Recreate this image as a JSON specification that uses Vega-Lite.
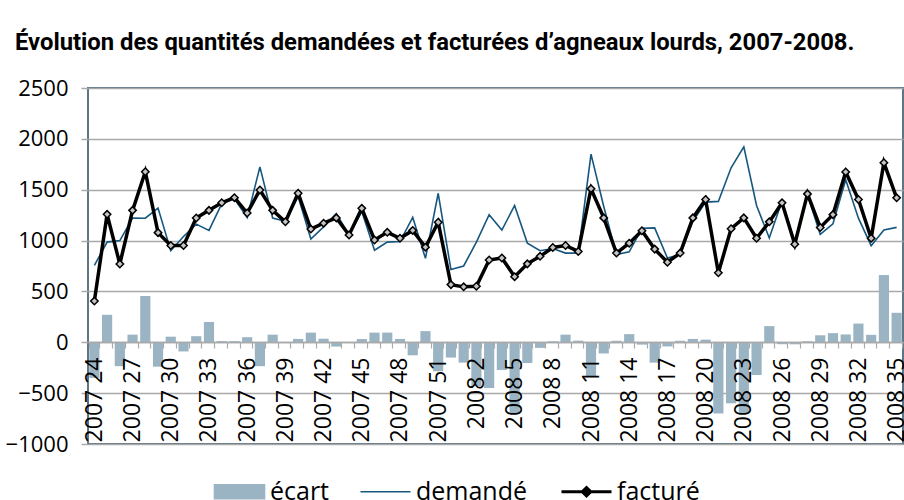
{
  "$schema": "https://vega.github.io/schema/vega-lite/v6.json",
  "width": 815,
  "height": 356,
  "autosize": {"type": "none"},
  "padding": {"left": 88, "top": 88, "right": 1, "bottom": 56},
  "background": "white",
  "title": {
    "text": "Évolution des quantités demandées et facturées d’agneaux lourds, 2007-2008.",
    "anchor": "start",
    "frame": "group",
    "dx": -73,
    "offset": 3,
    "baseline": "alphabetic",
    "font": "Roboto",
    "fontSize": 23.8,
    "fontWeight": "bold",
    "color": "#000000"
  },
  "config": {
    "view": {"stroke": "#5d7585", "strokeWidth": 2},
    "axis": {"labelFont": "Open Sans", "labelColor": "#000000", "titleFont": "Open Sans"}
  },
  "data": {
    "values": [
      {"semaine": "2007 24", "facture": 405, "demande": 755, "ecart": -350},
      {"semaine": "2007 25", "facture": 1258, "demande": 985, "ecart": 270},
      {"semaine": "2007 26", "facture": 770, "demande": 1000, "ecart": -235},
      {"semaine": "2007 27", "facture": 1297, "demande": 1222, "ecart": 75},
      {"semaine": "2007 28", "facture": 1677, "demande": 1220, "ecart": 455},
      {"semaine": "2007 29", "facture": 1078, "demande": 1320, "ecart": -240},
      {"semaine": "2007 30", "facture": 952, "demande": 900, "ecart": 55},
      {"semaine": "2007 31", "facture": 952, "demande": 1040, "ecart": -90},
      {"semaine": "2007 32", "facture": 1222, "demande": 1162, "ecart": 60},
      {"semaine": "2007 33", "facture": 1297, "demande": 1100, "ecart": 200},
      {"semaine": "2007 34", "facture": 1372, "demande": 1360, "ecart": 12},
      {"semaine": "2007 35", "facture": 1422, "demande": 1410, "ecart": 12},
      {"semaine": "2007 36", "facture": 1271, "demande": 1225, "ecart": 50},
      {"semaine": "2007 37", "facture": 1497, "demande": 1725, "ecart": -235},
      {"semaine": "2007 38", "facture": 1297, "demande": 1222, "ecart": 75},
      {"semaine": "2007 39", "facture": 1185, "demande": 1190, "ecart": -3},
      {"semaine": "2007 40", "facture": 1465, "demande": 1432, "ecart": 33},
      {"semaine": "2007 41", "facture": 1113, "demande": 1015, "ecart": 95},
      {"semaine": "2007 42", "facture": 1171, "demande": 1135, "ecart": 35},
      {"semaine": "2007 43", "facture": 1223, "demande": 1265, "ecart": -42},
      {"semaine": "2007 44", "facture": 1055, "demande": 1055, "ecart": 0},
      {"semaine": "2007 45", "facture": 1317, "demande": 1285, "ecart": 32},
      {"semaine": "2007 46", "facture": 1006, "demande": 905, "ecart": 95},
      {"semaine": "2007 47", "facture": 1081, "demande": 985, "ecart": 95},
      {"semaine": "2007 48", "facture": 1023, "demande": 990, "ecart": 33},
      {"semaine": "2007 49", "facture": 1100, "demande": 1228, "ecart": -128},
      {"semaine": "2007 50", "facture": 935, "demande": 825, "ecart": 110},
      {"semaine": "2007 51", "facture": 1180, "demande": 1465, "ecart": -285},
      {"semaine": "2007 52", "facture": 567, "demande": 715, "ecart": -150},
      {"semaine": "2008 1", "facture": 545, "demande": 750, "ecart": -200},
      {"semaine": "2008 2", "facture": 551, "demande": 985, "ecart": -430},
      {"semaine": "2008 3", "facture": 809, "demande": 1255, "ecart": -450},
      {"semaine": "2008 4", "facture": 829, "demande": 1103, "ecart": -272},
      {"semaine": "2008 5", "facture": 645, "demande": 1345, "ecart": -700},
      {"semaine": "2008 6", "facture": 771, "demande": 975, "ecart": -204},
      {"semaine": "2008 7", "facture": 845, "demande": 900, "ecart": -55},
      {"semaine": "2008 8", "facture": 932, "demande": 922, "ecart": 10},
      {"semaine": "2008 9", "facture": 952, "demande": 877, "ecart": 75},
      {"semaine": "2008 10", "facture": 893, "demande": 877, "ecart": 16},
      {"semaine": "2008 11", "facture": 1510, "demande": 1850, "ecart": -340},
      {"semaine": "2008 12", "facture": 1223, "demande": 1335, "ecart": -110},
      {"semaine": "2008 13", "facture": 877, "demande": 862, "ecart": 15},
      {"semaine": "2008 14", "facture": 974, "demande": 890, "ecart": 80},
      {"semaine": "2008 15", "facture": 1097, "demande": 1120, "ecart": -23},
      {"semaine": "2008 16", "facture": 916, "demande": 1125, "ecart": -200},
      {"semaine": "2008 17", "facture": 787, "demande": 828, "ecart": -41},
      {"semaine": "2008 18", "facture": 877, "demande": 862, "ecart": 15},
      {"semaine": "2008 19", "facture": 1223, "demande": 1190, "ecart": 33},
      {"semaine": "2008 20", "facture": 1404, "demande": 1378, "ecart": 26},
      {"semaine": "2008 21", "facture": 683, "demande": 1385, "ecart": -700},
      {"semaine": "2008 22", "facture": 1116, "demande": 1716, "ecart": -600},
      {"semaine": "2008 23", "facture": 1223, "demande": 1921, "ecart": -698},
      {"semaine": "2008 24", "facture": 1023, "demande": 1345, "ecart": -322},
      {"semaine": "2008 25", "facture": 1184, "demande": 1025, "ecart": 159},
      {"semaine": "2008 26", "facture": 1371, "demande": 1390, "ecart": -19},
      {"semaine": "2008 27", "facture": 964, "demande": 984, "ecart": -20},
      {"semaine": "2008 28", "facture": 1459, "demande": 1449, "ecart": 10},
      {"semaine": "2008 29", "facture": 1129, "demande": 1060, "ecart": 69},
      {"semaine": "2008 30", "facture": 1255, "demande": 1165, "ecart": 90},
      {"semaine": "2008 31", "facture": 1675, "demande": 1598, "ecart": 77},
      {"semaine": "2008 32", "facture": 1404, "demande": 1220, "ecart": 184},
      {"semaine": "2008 33", "facture": 1023, "demande": 950, "ecart": 73},
      {"semaine": "2008 34", "facture": 1766, "demande": 1105, "ecart": 661},
      {"semaine": "2008 35", "facture": 1420, "demande": 1130, "ecart": 290}
    ]
  },
  "encoding": {
    "x": {
      "field": "semaine",
      "type": "nominal",
      "sort": null,
      "scale": {"paddingInner": 0.2, "paddingOuter": 0.1},
      "axis": {
        "title": null,
        "offset": -102,
        "zindex": 1,
        "labelAngle": 270,
        "labelFontSize": 23,
        "labelPadding": 9,
        "labelOverlap": false,
        "labelBound": false,
        "labelExpr": "indexof(['2007 24','2007 27','2007 30','2007 33','2007 36','2007 39','2007 42','2007 45','2007 48','2007 51','2008 2','2008 5','2008 8','2008 11','2008 14','2008 17','2008 20','2008 23','2008 26','2008 29','2008 32','2008 35'], datum.value) >= 0 ? datum.value : ''",
        "tickBand": "extent",
        "tickSize": 6,
        "tickColor": "#a9a9a9",
        "tickWidth": 1.2,
        "domainColor": "#a9a9a9",
        "domainWidth": 1.5,
        "grid": false
      }
    }
  },
  "layer": [
    {
      "mark": {"type": "bar"},
      "encoding": {
        "y": {
          "field": "ecart",
          "type": "quantitative",
          "scale": {"domain": [-1000, 2500], "nice": false, "zero": false},
          "axis": {
            "title": null,
            "format": "d",
            "values": [-1000, -500, 0, 500, 1000, 1500, 2000, 2500],
            "grid": true,
            "gridColor": "#a9a9a9",
            "gridWidth": 1.5,
            "domain": false,
            "tickColor": "#a9a9a9",
            "tickSize": 7,
            "tickWidth": 1.5,
            "labelFontSize": 22,
            "labelPadding": 13
          }
        },
        "color": {
          "datum": "écart",
          "scale": {"domain": ["écart", "demandé", "facturé"], "range": ["#9bb4c4", "#17577f", "#000000"]},
          "legend": {
            "title": null,
            "orient": "none",
            "legendX": 139,
            "legendY": 391,
            "direction": "horizontal",
            "labelFont": "Open Sans",
            "labelFontSize": 25,
            "labelColor": "#000000",
            "labelOffset": 18,
            "columnPadding": 27,
            "symbolSize": 2500,
            "encode": {
              "symbols": {
                "update": {
                  "shape": {"signal": "datum.value === 'écart' ? 'M-1,-0.28H1V0.28H-1Z' : (datum.value === 'demandé' ? 'M-1,0H1' : 'M-1,0H-0.17M0.17,0H1M0,-0.17L0.17,0L0,0.17L-0.17,0Z')"},
                  "size": {"value": 2500},
                  "fill": {"signal": "datum.value === 'écart' ? '#9bb4c4' : (datum.value === 'facturé' ? '#c4c4c4' : 'transparent')"},
                  "stroke": {"signal": "datum.value === 'écart' ? 'transparent' : (datum.value === 'demandé' ? '#17577f' : '#000000')"},
                  "strokeWidth": {"signal": "datum.value === 'facturé' ? 3 : 1.6"},
                  "opacity": {"value": 1},
                  "fillOpacity": {"value": 1},
                  "strokeOpacity": {"value": 1}
                }
              }
            }
          }
        }
      }
    },
    {
      "mark": {"type": "line", "strokeWidth": 1.6},
      "encoding": {
        "y": {"field": "demande", "type": "quantitative"},
        "color": {"datum": "demandé"}
      }
    },
    {
      "mark": {"type": "line", "strokeWidth": 3.5},
      "encoding": {
        "y": {"field": "facture", "type": "quantitative"},
        "color": {"datum": "facturé"}
      }
    },
    {
      "mark": {"type": "point", "shape": "diamond", "filled": true, "fill": "#c4c4c4", "stroke": "#000000", "strokeWidth": 1.5, "size": 55, "opacity": 1},
      "encoding": {
        "y": {"field": "facture", "type": "quantitative"}
      }
    }
  ]
}
